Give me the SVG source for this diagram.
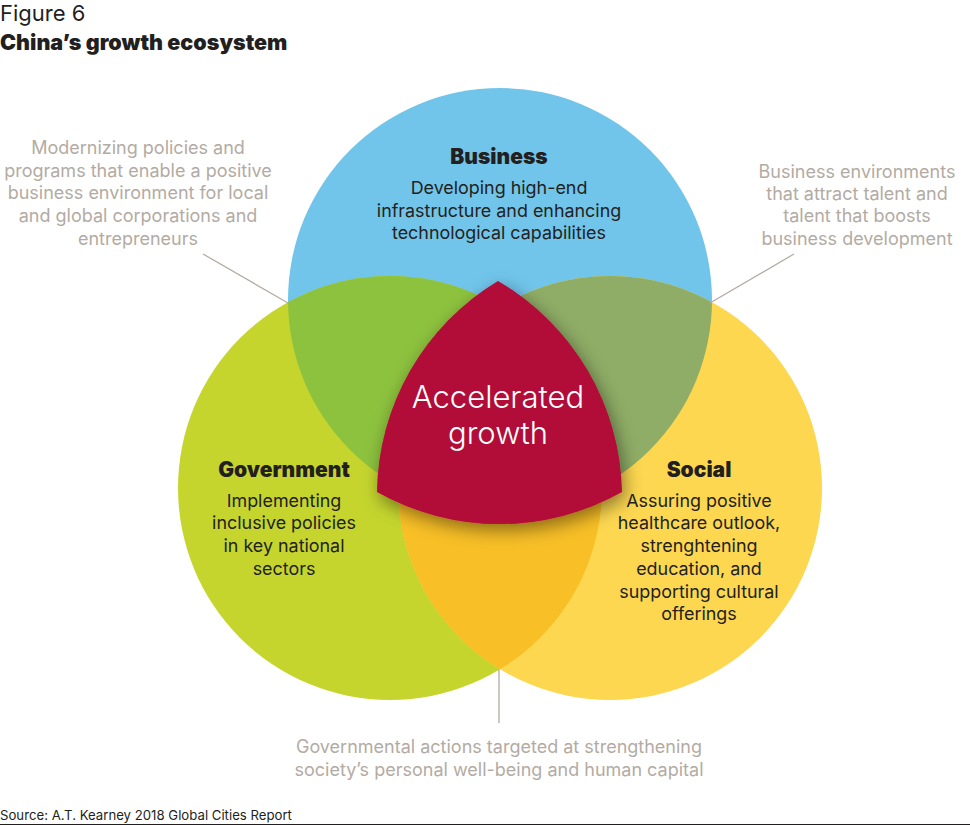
<svg xmlns="http://www.w3.org/2000/svg" width="970" height="825" viewBox="0 0 970 825">
<style>
.note{font-family:Inter,"Liberation Sans",sans-serif;font-size:18px;fill:#B3ABA3;text-anchor:middle}
.ttl{font-family:Inter,"Liberation Sans",sans-serif;font-size:21px;font-weight:900;fill:#231F20;text-anchor:middle}
.body{font-family:Inter,"Liberation Sans",sans-serif;font-size:17.9px;fill:#231F20;text-anchor:middle}
.lead{stroke:#B3ABA3;stroke-width:1.3;fill:none}
</style>
<defs>
<clipPath id="cB"><circle cx="500" cy="300" r="212"/></clipPath>
<clipPath id="cG"><circle cx="390" cy="488" r="212"/></clipPath>
<clipPath id="cS"><circle cx="610" cy="488" r="212"/></clipPath>
<filter id="sh" x="-30%" y="-30%" width="160%" height="160%">
<feDropShadow dx="3" dy="6" stdDeviation="9" flood-color="#000" flood-opacity="0.45"/>
</filter>
</defs>
<rect width="970" height="825" fill="#fff"/>
<text x="0" y="21" font-family="Inter,'Liberation Sans',sans-serif" font-size="22" fill="#231F20">Figure 6</text>
<text x="0" y="50" font-family="Inter,'Liberation Sans',sans-serif" font-size="21.5" font-weight="900" fill="#231F20">China’s growth ecosystem</text>

<g id="business-circle"><circle cx="500" cy="300" r="212" fill="#71C5EA"/></g>
<g id="government-circle"><circle cx="390" cy="488" r="212" fill="#C5D52E"/></g>
<g id="social-circle"><circle cx="610" cy="488" r="212" fill="#FDD750"/></g>
<g id="overlaps">
<circle cx="390" cy="488" r="212" fill="#8DC23E" clip-path="url(#cB)"/>
<circle cx="610" cy="488" r="212" fill="#8FAD66" clip-path="url(#cB)"/>
<g clip-path="url(#cG)"><circle cx="610" cy="488" r="212" fill="#F8BF26"/></g>
</g>

<g id="connectors">
<line class="lead" x1="203" y1="254" x2="288" y2="303"/>
<line class="lead" x1="794" y1="254" x2="710" y2="303"/>
<line class="lead" x1="499" y1="669" x2="499" y2="723"/>
</g>

<g id="accelerated-growth">
<path d="M498 281 A250 250 0 0 1 622 492 A250 250 0 0 1 377 492 A250 250 0 0 1 498 281 Z" fill="#B20838" filter="url(#sh)"/>
<text x="498" y="408" font-family="Inter,'Liberation Sans',sans-serif" font-size="31" font-weight="300" fill="#fff" text-anchor="middle">Accelerated</text>
<text x="498" y="444" font-family="Inter,'Liberation Sans',sans-serif" font-size="31" font-weight="300" fill="#fff" text-anchor="middle">growth</text>
</g>

<g id="business-label">
<text class="ttl" x="499" y="164">Business</text>
<text class="body" x="499" y="194">Developing high-end</text>
<text class="body" x="499" y="217">infrastructure and enhancing</text>
<text class="body" x="499" y="239">technological capabilities</text>
</g>
<g id="government-label">
<text class="ttl" x="284" y="477">Government</text>
<text class="body" x="284" y="507">Implementing</text>
<text class="body" x="284" y="529">inclusive policies</text>
<text class="body" x="284" y="552">in key national</text>
<text class="body" x="284" y="575">sectors</text>
</g>
<g id="social-label">
<text class="ttl" x="699" y="477">Social</text>
<text class="body" x="699" y="507">Assuring positive</text>
<text class="body" x="699" y="529">healthcare outlook,</text>
<text class="body" x="699" y="552">strenghtening</text>
<text class="body" x="699" y="575">education, and</text>
<text class="body" x="699" y="598">supporting cultural</text>
<text class="body" x="699" y="620">offerings</text>
</g>

<g id="note-left">
<text class="note" x="138" y="154">Modernizing policies and</text>
<text class="note" x="138" y="177">programs that enable a positive</text>
<text class="note" x="138" y="199">business environment for local</text>
<text class="note" x="138" y="222">and global corporations and</text>
<text class="note" x="138" y="245">entrepreneurs</text>
</g>
<g id="note-right">
<text class="note" x="857" y="178">Business environments</text>
<text class="note" x="857" y="200">that attract talent and</text>
<text class="note" x="857" y="222">talent that boosts</text>
<text class="note" x="857" y="245">business development</text>
</g>
<g id="note-bottom">
<text class="note" x="499" y="753">Governmental actions targeted at strengthening</text>
<text class="note" x="499" y="776">society’s personal well-being and human capital</text>
</g>

<text x="0" y="820" font-family="Inter,'Liberation Sans',sans-serif" font-size="13.2" fill="#231F20">Source: A.T. Kearney 2018 Global Cities Report</text>
<line x1="0" y1="824.5" x2="970" y2="824.5" stroke="#231F20" stroke-width="1"/>
</svg>
